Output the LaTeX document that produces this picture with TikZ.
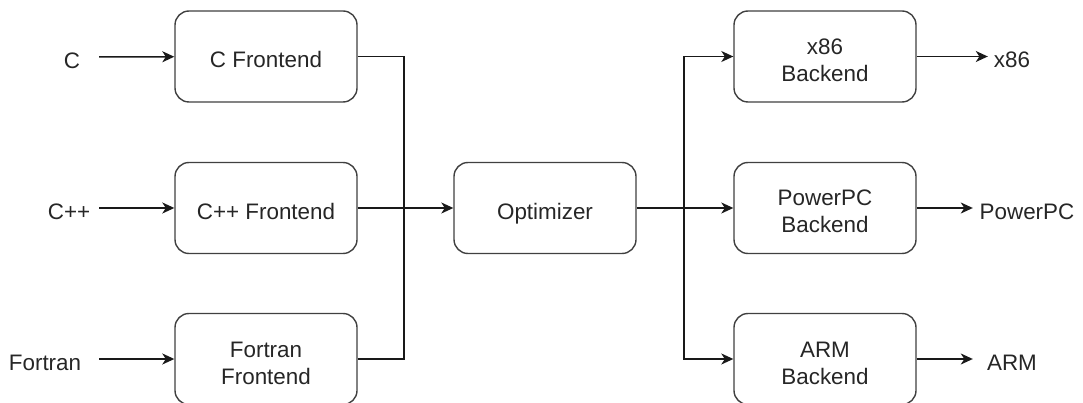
\documentclass[tikz,border=0pt]{standalone}
\usepackage{fontspec}
\setmainfont{Liberation Sans}
\usetikzlibrary{arrows.meta}
\begin{document}
\begin{tikzpicture}[x=1pt,y=-1pt,
  box/.style={draw=black!75, line width=1.4pt, rounded corners=14pt, fill=white,
    minimum width=182pt, minimum height=91pt, inner sep=0pt, align=center,
    text height=23pt, text depth=0pt,
    font=\fontsize{22.4}{27}\selectfont, text=black!85},
  twoline/.style={text height=50pt},
  lbl/.style={inner sep=0pt, font=\fontsize{22.4}{27}\selectfont, text=black!85,
    text height=23pt, text depth=0pt},
  conn/.style={line width=1.5pt, black!90},
  arr/.style={conn, -{Stealth[length=12pt, width=11pt, inset=3.5pt]}}]
\useasboundingbox (0,0) rectangle (1083,403);
% frontends
\node[box] (fC) at (266,56.5) {C Frontend};
\node[box] (fCpp) at (266,208) {C++ Frontend};
\node[box, twoline] (fF) at (266,359) {Fortran\\Frontend};
% optimizer
\node[box] (opt) at (545,208) {Optimizer};
% backends
\node[box, twoline] (bX) at (825,56.5) {x86\\Backend};
\node[box, twoline] (bP) at (825,208) {PowerPC\\Backend};
\node[box, twoline] (bA) at (825,359) {ARM\\Backend};
% input labels
\node[lbl, minimum width=54pt] (lC) at (72,57) {C};
\node[lbl, minimum width=60pt] (lCpp) at (69,208) {C++};
\node[lbl, minimum width=108pt] (lF) at (45,359) {Fortran};
% output labels
\node[lbl, minimum width=48pt] (oX) at (1012,56.5) {x86};
\node[lbl, minimum width=108pt] (oP) at (1027,208) {PowerPC};
\node[lbl, minimum width=78pt] (oA) at (1012,359) {ARM};
% junctions
\coordinate (jL) at (404,208);
\coordinate (jR) at (684,208);
% input arrows
\draw[arr] (lC) -- (fC);
\draw[arr] (lCpp) -- (fCpp);
\draw[arr] (lF) -- (fF);
% merge
\draw[conn] (fC.east) -| (jL);
\draw[conn] (fF.east) -| (jL);
\draw[arr] (fCpp) -- (opt);
% fan out
\draw[arr] (opt) -- (bP);
\draw[arr] (jR) |- (bX.west);
\draw[arr] (jR) |- (bA.west);
% outputs
\draw[arr] (bX) -- (oX);
\draw[arr] (bP) -- (oP);
\draw[arr] (bA) -- (oA);
\end{tikzpicture}
\end{document}
